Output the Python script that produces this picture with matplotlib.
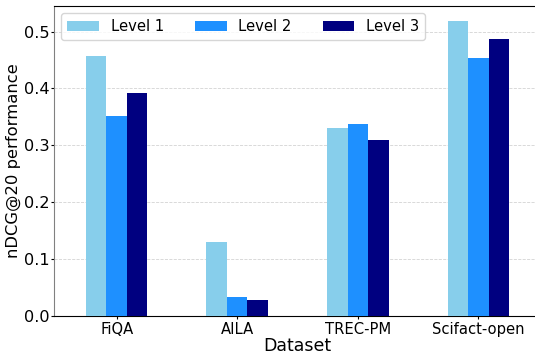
import numpy as np
import matplotlib.pyplot as plt

datasets = ['FiQA', 'AILA', 'TREC-PM', 'Scifact-open']
level1 = [0.457, 0.130, 0.330, 0.518]
level2 = [0.352, 0.033, 0.337, 0.453]
level3 = [0.392, 0.029, 0.309, 0.487]
colores = ['skyblue', 'dodgerblue', 'navy']

fig = plt.figure(figsize=(5.35, 3.54), dpi=100)
# el eje derecho queda fuera de la imagen, como en el original
ax = fig.add_axes([54 / 535, 38 / 354, 487 / 535, 310 / 354])

x = np.arange(len(datasets))
ancho = 0.17
for i, (vals, nombre) in enumerate(zip([level1, level2, level3], ['Level 1', 'Level 2', 'Level 3'])):
    ax.bar(x + (i - 1) * ancho, vals, ancho, color=colores[i], label=nombre, zorder=3)

ax.set_xticks(x)
ax.set_xticklabels(datasets, fontsize=10.6)
ax.tick_params(axis='y', labelsize=11.6, length=2.5, pad=1)
ax.tick_params(axis='x', length=2.5, pad=2)
ax.set_xlim(-0.52, 3.52)
ax.set_ylim(0, 0.545)
ax.set_yticks([0.0, 0.1, 0.2, 0.3, 0.4, 0.5])
ax.set_xlabel('Dataset', fontsize=12.5, labelpad=0)
ax.set_ylabel('nDCG@20 performance', fontsize=11.8, labelpad=2)
ax.yaxis.grid(True, linestyle='--', color='lightgray', linewidth=0.6, zorder=0)
ax.spines['left'].set_color('gray')
ax.legend(loc='upper left', ncol=3, fontsize=10.6, handlelength=2.15,
          columnspacing=2.1, borderaxespad=0.5)

plt.savefig('out.png', dpi=100)
